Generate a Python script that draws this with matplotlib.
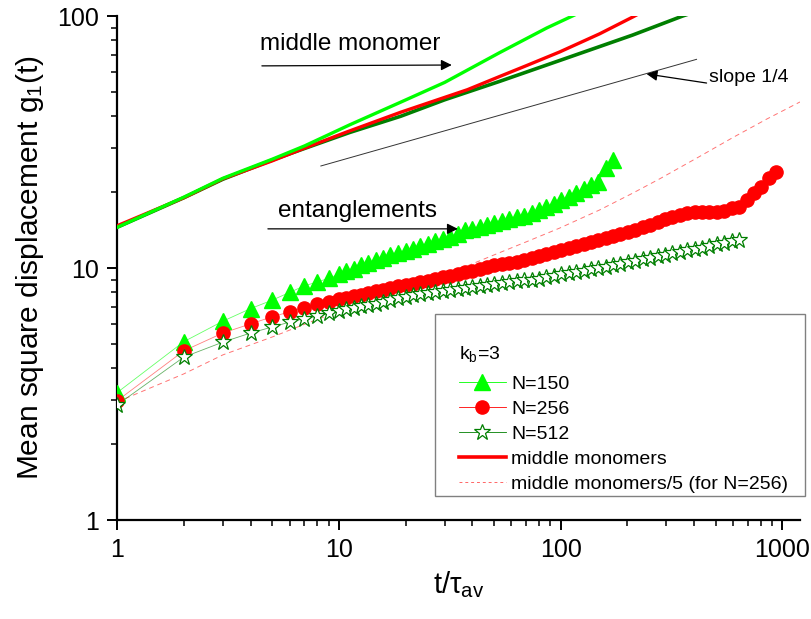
import numpy as np
import matplotlib
matplotlib.use("Agg")
import matplotlib.pyplot as plt
from matplotlib.lines import Line2D
from matplotlib.patches import Rectangle
from matplotlib.ticker import FuncFormatter, NullFormatter

plt.rcParams['font.family'] = ['Liberation Sans', 'DejaVu Sans']
plt.rcParams['mathtext.fontset'] = 'custom'
plt.rcParams['mathtext.rm'] = 'Liberation Sans'
plt.rcParams['mathtext.it'] = 'Liberation Sans'

# time grid shared by the three chain lengths
t = [1, 2, 3, 4, 5, 6, 7, 8, 9, 10,
     10.8, 11.7, 12.6, 13.6, 14.7, 15.9, 17.1, 18.5, 20, 21.6,
     23.3, 25.2, 27.2, 29.4, 31.7, 34.3, 37, 40, 43.2, 46.6,
     50.3, 54.4, 58.7, 63.4, 68.5, 74, 79.9, 86.3, 93.2, 100.6,
     108.7, 117, 127, 137, 148, 160, 172, 186, 201, 217,
     235, 253, 274, 295, 319, 345, 372, 402, 434, 469,
     506, 547, 590, 638, 689, 744, 803, 868, 937]

# entanglement msd, N=150
g_150 = [3.2, 5.1, 6.15, 6.9, 7.45, 8.0, 8.5, 8.8, 9.1, 9.45,
         9.7, 9.95, 10.25, 10.5, 10.8, 11.0, 11.25, 11.5, 11.7, 11.95,
         12.2, 12.5, 12.75, 13.0, 13.3, 13.6, 14.1, 14.3, 14.5, 14.8,
         15.1, 15.3, 15.6, 15.9, 16.1, 16.5, 17.0, 17.4, 17.9, 18.6,
         19.1, 19.8, 20.6, 21.4, 22.0, 25.0, 26.8]

# N=256
g_256 = [2.97, 4.69, 5.52, 6.0, 6.4, 6.7, 6.94, 7.2, 7.35, 7.53,
         7.62, 7.72, 7.83, 7.95, 8.07, 8.2, 8.32, 8.45, 8.55, 8.65,
         8.78, 8.92, 9.05, 9.2, 9.33, 9.48, 9.62, 9.75, 9.88, 10.05,
         10.25, 10.4, 10.5, 10.6, 10.75, 10.95, 11.15, 11.35, 11.55, 11.8,
         12.0, 12.2, 12.45, 12.7, 12.95, 13.2, 13.45, 13.7, 13.95, 14.2,
         14.5, 14.85, 15.2, 15.6, 15.95, 16.2, 16.5, 16.7, 16.75, 16.75,
         16.75, 16.9, 17.3, 17.5, 18.6, 19.8, 21.0, 22.8, 24.0]

# N=512
g_512 = [2.86, 4.43, 5.08, 5.52, 5.83, 6.1, 6.3, 6.45, 6.63, 6.75,
         6.85, 6.95, 7.05, 7.13, 7.22, 7.32, 7.45, 7.58, 7.68, 7.78,
         7.85, 7.95, 8.03, 8.12, 8.2, 8.28, 8.35, 8.42, 8.5, 8.57,
         8.65, 8.72, 8.8, 8.87, 8.93, 8.98, 9.07, 9.2, 9.32, 9.45,
         9.55, 9.65, 9.75, 9.87, 10.0, 10.1, 10.25, 10.4, 10.6, 10.7,
         10.85, 11.0, 11.15, 11.3, 11.45, 11.6, 11.75, 11.9, 12.05, 12.2,
         12.4, 12.55, 12.75, 12.95]

# middle monomers
mid_t_150 = [1, 2, 3, 5, 7, 11.2, 19, 30, 53, 86.5, 113, 130]
mid_g_150 = [14.5, 19.1, 22.7, 27, 30.5, 37.0, 45.5, 54.5, 71.5, 89.6, 100, 106]
mid_t_256 = [1, 2, 3, 5, 7, 11, 19, 38, 53, 70, 99, 150, 211, 280, 420, 600, 850, 1200]
mid_g_256 = [14.7, 19.0, 22.6, 26.6, 29.9, 34.8, 41.5, 51, 57.5, 63.5, 72, 85, 99, 113, 138, 165, 195, 228]
mid_t_512 = [1, 2, 3, 5, 7, 11.2, 19, 30, 53, 106, 211, 355, 420]
mid_g_512 = [14.5, 19, 22.5, 26.8, 29.8, 34.5, 40, 46.5, 55, 68, 84, 100, 105]

# reference slope 1/4
slope_t = [8.3, 410]
slope_g = [25.4, 67.3]

lime = '#00ff00'
red = '#ff0000'
dgreen = '#007f00'

fig = plt.figure(figsize=(8.11, 6.19), dpi=100)
ax = fig.add_axes([117 / 811, 1 - 520 / 619, 683 / 811, 504 / 619])

ax.plot(mid_t_256, np.array(mid_g_256) / 5, color=red, lw=0.7, ls=(0, (5, 4)), alpha=0.55, zorder=1)
ax.plot(slope_t, slope_g, color='#333333', lw=0.7, zorder=2)

ax.plot(t[:len(g_150)], g_150, color=lime, lw=0.6, alpha=0.6, zorder=2)
ax.plot(t[:len(g_150)], g_150, ls='none', marker='^', ms=12, color=lime, mec=lime, zorder=3)
ax.plot(t[:len(g_256)], g_256, color=red, lw=0.6, alpha=0.5, zorder=2)
ax.plot(t[:len(g_256)], g_256, ls='none', marker='o', ms=9.5, color=red, mec=red, zorder=3)
ax.plot(t[:len(g_512)], g_512, color=dgreen, lw=0.6, alpha=0.6, zorder=2)
ax.plot(t[:len(g_512)], g_512, ls='none', marker='*', ms=12, mfc='white', mec=dgreen, mew=0.9, zorder=4)

ax.plot(mid_t_512, mid_g_512, color=dgreen, lw=2.6, zorder=5)
ax.plot(mid_t_256, mid_g_256, color=red, lw=2.4, zorder=5)
ax.plot(mid_t_150, mid_g_150, color=lime, lw=2.4, zorder=6)

ax.set_xscale('log')
ax.set_yscale('log')
ax.set_xlim(1, 1200)
ax.set_ylim(1, 100)

for s in ['top', 'right']:
    ax.spines[s].set_visible(False)
for s in ['left', 'bottom']:
    ax.spines[s].set_linewidth(1.6)

fmt = FuncFormatter(lambda v, _: f'{v:g}')
ax.xaxis.set_major_formatter(fmt)
ax.yaxis.set_major_formatter(fmt)
ax.xaxis.set_minor_formatter(NullFormatter())
ax.yaxis.set_minor_formatter(NullFormatter())
ax.tick_params(which='major', direction='out', length=7, width=1.4, pad=6, labelsize=18)
ax.tick_params(which='minor', direction='out', length=4, width=1.1)

ax.set_xlabel(r'$\mathregular{t/\tau_{av}}$', fontsize=21, labelpad=5)
ax.set_ylabel(r'Mean square displacement g$_\mathregular{1}$(t)', fontsize=21.5, labelpad=8)

arr = dict(arrowstyle='-|>', color='black', lw=0.9, mutation_scale=16, shrinkA=0, shrinkB=0)
ax.annotate('', xy=(32.3, 63.9), xytext=(4.5, 63.4), arrowprops=arr)
ax.text(11.2, 77.4, 'middle monomer', fontsize=17.5, ha='center', va='center')
ax.annotate('', xy=(34.4, 14.3), xytext=(4.79, 14.3), arrowprops=arr)
ax.text(12.2, 16.8, 'entanglements', fontsize=17.5, ha='center', va='center')
ax.annotate('', xy=(244, 58.9), xytext=(455, 54.2), arrowprops=arr)
ax.text(469, 56.8, 'slope 1/4', fontsize=14, ha='left', va='center')

handles = [
    Line2D([], [], color=lime, lw=0.6, marker='^', ms=12, mec=lime),
    Line2D([], [], color=red, lw=0.6, marker='o', ms=9.5, mec=red),
    Line2D([], [], color=dgreen, lw=0.6, marker='*', ms=12, mfc='white', mec=dgreen, mew=0.9),
    Line2D([], [], color=red, lw=2.6),
    Line2D([], [], color=red, lw=0.7, ls=(0, (3, 3)), alpha=0.6),
]
labels = ['N=150', 'N=256', 'N=512', 'middle monomers', 'middle monomers/5 (for N=256)']
leg = ax.legend(handles, labels, fontsize=14,
                loc='upper left', bbox_to_anchor=(0.5007, 0.2877), borderaxespad=0,
                frameon=False, handlelength=2.4, handletextpad=0.3, labelspacing=0.38,
                borderpad=0)
ax.text(0.5007, 0.329, 'k$_\\mathregular{b}$=3', transform=ax.transAxes, fontsize=14,
        ha='left', va='center')

# legend frame, drawn as in the original (wider padding on the left)
ax.add_patch(Rectangle((0.4656, 0.0476), 0.5417, 0.361, transform=ax.transAxes,
                       fill=False, edgecolor='#808080', lw=1.0, clip_on=False, zorder=7))

fig.savefig('out.png', dpi=100)
